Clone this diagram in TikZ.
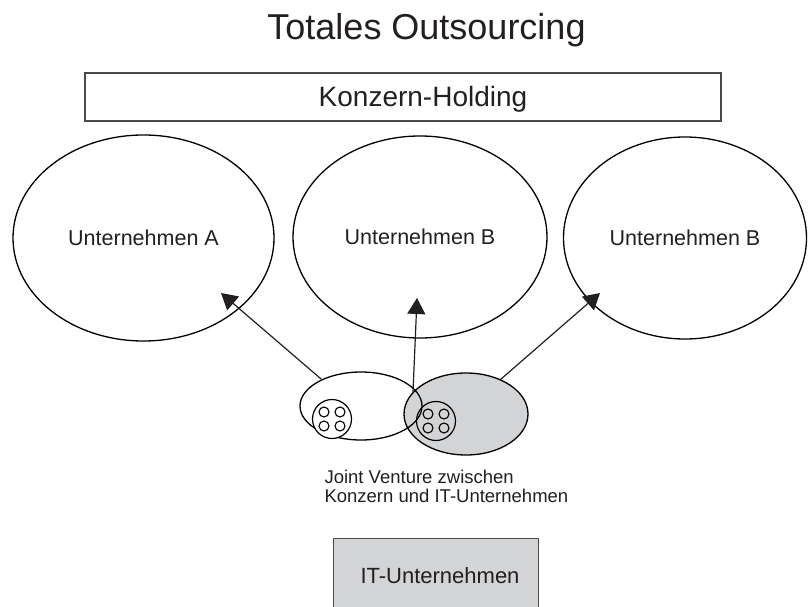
\documentclass[tikz,border=0pt]{standalone}
\usepackage{fontspec}
\setmainfont{Liberation Sans}
\usetikzlibrary{shapes.geometric,arrows.meta}
\definecolor{ink}{HTML}{231F20}
\definecolor{jvgray}{HTML}{D3D4D6}
\definecolor{boxline}{HTML}{4A4A4A}
\begin{document}
\begin{tikzpicture}[x=1pt,y=-1pt,
  oval/.style={ellipse, draw=black, line width=1.3pt, inner sep=0pt, text=ink,
    font=\fontsize{21.5}{24}\selectfont},
  plainbox/.style={rectangle, draw=boxline, line width=1.4pt, inner sep=0pt},
  ring/.style={circle, draw=black, line width=1.2pt, inner sep=0pt},
  dot/.style={circle, draw=black, line width=1.1pt, inner sep=0pt, minimum size=10},
  link/.style={draw=ink, line width=1.2pt, -{Triangle[length=16pt,width=18pt]}}]
\useasboundingbox (0,0) rectangle (808,607);

% heading
\node[font=\fontsize{36}{40}\selectfont, text=ink, anchor=base] (title) at (426.5,40) {Totales Outsourcing};

% holding bar
\node[plainbox, minimum width=636, minimum height=48] (holding) at (403,97) {};
\node[font=\fontsize{28}{30}\selectfont, text=ink, anchor=base] (holdingtxt) at (423,107) {Konzern-Holding};

% the three companies
\node[oval, minimum width=261, minimum height=206] (ua) at (143.5,238) {Unternehmen A};
\node[oval, minimum width=254, minimum height=202] (ub) at (420,237) {Unternehmen B};
\node[oval, minimum width=243, minimum height=202] (uc) at (685,238) {Unternehmen B};

% joint venture: IT partner (grey) and group partner (white)
\node[ellipse, draw=black, fill=jvgray, line width=1.3pt, minimum width=124, minimum height=82, inner sep=0pt] (jvit) at (466,414) {};
\node[ellipse, draw=black, line width=1.3pt, minimum width=122, minimum height=68, inner sep=0pt] (jvk) at (361,406) {};

% resource clusters
\node[ring, fill=white, minimum size=39] (rk) at (332,419) {};
\node[ring, minimum size=39] (rit) at (436,421) {};
\foreach \p/\c in {k/rk, it/rit}{
  \node[dot] (\p1) at ([shift={(-8,-7)}]\c) {};
  \node[dot] (\p2) at ([shift={(8,-7)}]\c) {};
  \node[dot] (\p3) at ([shift={(-8,7)}]\c) {};
  \node[dot] (\p4) at ([shift={(8,7)}]\c) {};
}

% arrows to the companies
\coordinate (tipa) at (221,293);
\coordinate (tipb) at (417,298);
\coordinate (tipc) at (600,293);
\coordinate (jvmid) at (413,392);
\draw[link] (jvk.146) -- (tipa);
\draw[link] (jvmid) -- (tipb);
\draw[link] (jvit.45) -- (tipc);

% caption of the joint venture
\node[font=\fontsize{18.5}{18.5}\selectfont, text=ink, anchor=base west] (jv1) at (321,483) {Joint Venture zwischen};
\node[font=\fontsize{18.5}{18.5}\selectfont, text=ink, anchor=base west] (jv2) at (321,502) {Konzern und IT-Unternehmen};

% IT company
\node[plainbox, fill=jvgray, minimum width=205, minimum height=90, anchor=north west] (it) at (333,538) {};
\node[font=\fontsize{22}{24}\selectfont, text=ink, anchor=base] (ittxt) at (440,583) {IT-Unternehmen};
\end{tikzpicture}
\end{document}
